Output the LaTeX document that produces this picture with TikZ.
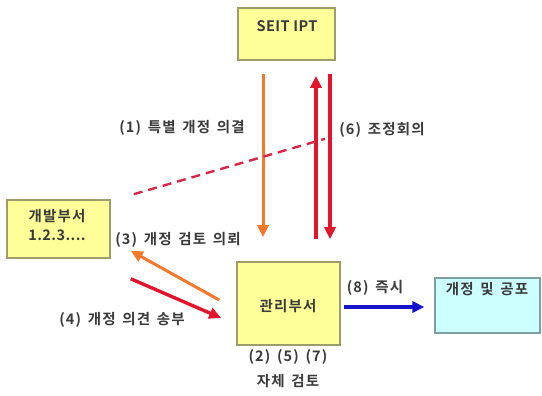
\documentclass[tikz,border=0pt]{standalone}
\usepackage{fontspec}
\setmainfont{Noto Sans CJK KR}[BoldFont={Noto Sans CJK KR Bold}, LetterSpace=8, WordSpace=1.5]
\newfontfamily\plainlbl{Noto Sans CJK KR}[BoldFont={Noto Sans CJK KR Bold}, LetterSpace=3]
\usetikzlibrary{arrows.meta}
\definecolor{boxyellow}{HTML}{FFFF99}
\definecolor{boxcyan}{HTML}{CCFFFF}
\definecolor{boxedge}{HTML}{9C9C6C}
\definecolor{cyanedge}{HTML}{7FA0A0}
\definecolor{txt}{HTML}{3A3A3A}
\definecolor{arrorange}{HTML}{F7782A}
\definecolor{arrred}{HTML}{E3142C}
\definecolor{arrblue}{HTML}{1414C8}
\definecolor{dashred}{HTML}{D8284A}
\tikzset{
  unitbox/.style={draw=boxedge, line width=1.6pt, fill=boxyellow, inner sep=0pt},
  outbox/.style={draw=cyanedge, line width=1.2pt, fill=boxcyan, inner sep=0pt},
  lbl/.style={text=txt, font=\fontsize{14.5}{17}\selectfont\bfseries, inner sep=0pt},
  flow/.style={line width=3.4pt, -{Triangle[length=12pt,width=11pt]}},
}
\begin{document}
\begin{tikzpicture}[x=1pt,y=-1pt]
\useasboundingbox (0,0) rectangle (542,396);
% boxes
\node[unitbox, minimum width=97pt, minimum height=52pt] (seit) at (286.5,34) {};
\node[unitbox, minimum width=103pt, minimum height=58pt] (dev) at (58.5,229) {};
\node[unitbox, minimum width=103pt, minimum height=83pt] (mgmt) at (288.5,303.5) {};
\node[outbox, minimum width=105pt, minimum height=55pt] (pub) at (487.5,305.5) {};
% box texts
\node[lbl] (seitT) at (287,26) {\plainlbl\bfseries SEIT IPT};
\node[lbl] (devA) at (57,216) {개발부서};
\node[lbl] (devB) at (57,235) {\plainlbl\bfseries 1.2.3....};
\node[lbl] (mgmtT) at (288,306) {관리부서};
\node[lbl] (pubT) at (487,289) {개정 및 공포};
% connector end points (shifts are on the page: positive y is up)
\coordinate (o1) at ([xshift=-23.5pt,yshift=-13pt]seit.south);
\coordinate (o2) at ([xshift=-25.5pt,yshift=24pt]mgmt.north);
\coordinate (r1) at ([xshift=27.5pt,yshift=22pt]mgmt.north);
\coordinate (r2) at ([xshift=29.5pt,yshift=-15pt]seit.south);
\coordinate (r3) at ([xshift=43.5pt,yshift=-13pt]seit.south);
\coordinate (r4) at ([xshift=41.5pt,yshift=22pt]mgmt.north);
\coordinate (d1) at ([xshift=23pt,yshift=5pt]dev.north east);
\coordinate (d2) at ([xshift=-5pt,yshift=-65pt]r3);
\coordinate (a3s) at ([xshift=-17pt,yshift=3.5pt]mgmt.west);
\coordinate (a3e) at ([xshift=20pt,yshift=8pt]dev.south east);
\coordinate (a4s) at ([xshift=20pt,yshift=-20pt]dev.south east);
\coordinate (a4e) at ([xshift=-15pt,yshift=-14.5pt]mgmt.west);
\coordinate (b1) at ([xshift=3pt,yshift=-3.5pt]mgmt.east);
\coordinate (b2) at ([xshift=-10pt,yshift=-1.5pt]pub.west);
% connectors
\draw[flow, arrorange, line width=3pt] (o1) -- (o2);
\draw[flow, arrred] (r1) -- (r2);
\draw[flow, arrred] (r3) -- (r4);
\draw[dashred, line width=2.4pt, dash pattern=on 9pt off 6pt] (d1) -- (d2);
\draw[flow, arrorange, line width=3pt] (a3s) -- (a3e);
\draw[flow, arrred] (a4s) -- (a4e);
\draw[flow, arrblue] (b1) -- (b2);
% labels
\node[lbl] (l1) at (182,128) {(1) 특별 개정 의결};
\node[lbl] (l6) at (382,130) {(6) 조정회의};
\node[lbl] (l3) at (178,240) {(3) 개정 검토 의뢰};
\node[lbl] (l4) at (122,320) {(4) 개정 의견 송부};
\node[lbl] (l8) at (375,288) {(8) 즉시};
\node[lbl] (l2) at (288,357) {(2) (5) (7)};
\node[lbl] (ls) at (288,381) {자체 검토};
\end{tikzpicture}
\end{document}
